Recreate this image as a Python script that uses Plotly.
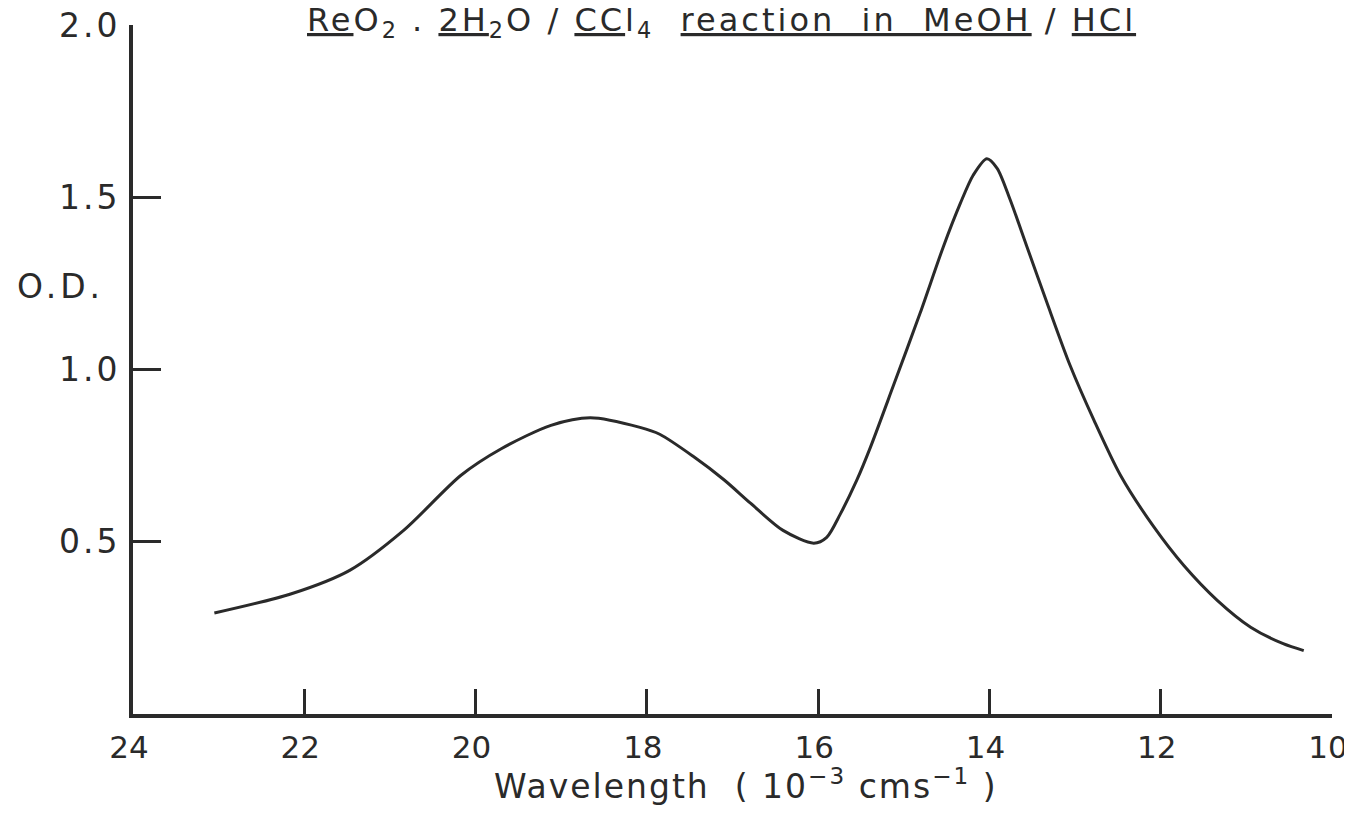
import plotly.graph_objects as go

# Wavenumber (10^-3 cm^-1) and optical density
wavenumber = [23.05, 22.15, 21.47, 20.84, 20.17, 19.70, 19.12, 18.66, 18.08, 17.85,
              17.46, 17.10, 16.79, 16.41, 16.05, 15.90, 15.74, 15.55, 15.39, 15.12, 14.81,
              14.54, 14.34, 14.19, 14.03, 13.91, 13.76, 13.56, 13.33, 13.06, 12.78,
              12.47, 12.08, 11.73, 11.34, 10.95, 10.57, 10.33]
od = [0.293, 0.349, 0.417, 0.533, 0.693, 0.770, 0.838, 0.860, 0.832, 0.812,
      0.748, 0.680, 0.612, 0.533, 0.496, 0.513, 0.581, 0.678, 0.774, 0.954, 1.163,
      1.355, 1.482, 1.564, 1.612, 1.584, 1.494, 1.355, 1.195, 1.013, 0.853,
      0.693, 0.543, 0.431, 0.330, 0.252, 0.204, 0.184]

x_ticks = [24, 22, 20, 18, 16, 14, 12, 10]
x_ticklabels = ["24", "22", "20", "18", "16", "14", "12", "10"]
y_ticks = [0.5, 1.0, 1.5, 2.0]
y_ticklabels = ["0.5", "1.0", "1.5", "2.0"]

INK = "#2a2a2a"
FONT = "DejaVu Sans"


def spaced(t, px=3):
    return '<span style="letter-spacing:%dpx">%s</span>' % (px, t)


fig = go.Figure()
fig.add_trace(go.Scatter(
    x=wavenumber, y=od, mode="lines",
    line=dict(color=INK, width=3, shape="spline", smoothing=0.8),
    showlegend=False, hoverinfo="skip",
))

# page body adds an 8px margin, so the figure is sized/offset to compensate
fig.update_layout(
    width=1344, height=818,
    margin=dict(l=125, r=20, t=17, b=112, pad=0),
    paper_bgcolor="white", plot_bgcolor="white",
    font=dict(family=FONT, color=INK, size=30),
    showlegend=False,
)

fig.update_xaxes(
    range=[24, 10], tickvals=x_ticks,
    ticktext=x_ticklabels,
    showgrid=False, zeroline=False, automargin=False,
    showline=True, linewidth=4, linecolor=INK,
    ticks="inside", ticklen=25, tickwidth=2.5, tickcolor=INK,
    ticklabelstandoff=3, ticklabelshift=4, ticklabeloverflow="allow",
    tickfont=dict(family=FONT, size=31, color=INK),
)
fig.update_yaxes(
    range=[0, 2.0], tickvals=y_ticks,
    ticktext=[spaced(t, 3) for t in y_ticklabels],
    showgrid=False, zeroline=False, automargin=False,
    showline=True, linewidth=4, linecolor=INK,
    ticks="inside", ticklen=28, tickwidth=2.5, tickcolor=INK,
    ticklabelstandoff=2, ticklabeloverflow="allow",
    tickfont=dict(family=FONT, size=33, color=INK),
)

NB = "\u00a0"
title = ("<u>Re</u>O<sub>2</sub>" + NB + "." + NB + "<u>2H</u><sub>2</sub>O" + NB + "/" + NB
         + "<u>CC</u>l<sub>4</sub>" + NB * 2 + "<u>reaction" + NB * 2 + "in" + NB * 2
         + "MeOH</u>" + NB + "/" + NB + "<u>HCl</u>")
fig.add_annotation(
    text=spaced(title, 3), xref="paper", yref="paper", x=0.491, y=1.005,
    xanchor="center", yanchor="middle", showarrow=False,
    font=dict(family=FONT, size=32, color=INK),
)
fig.add_annotation(
    text=spaced("O.D.", 4), xref="paper", yref="y", x=-0.098, y=1.24,
    xanchor="left", yanchor="middle", showarrow=False,
    font=dict(family=FONT, size=33, color=INK),
)
fig.add_annotation(
    text=spaced("Wavelength" + NB * 2 + "(" + NB + "10<sup>\u22123</sup>" + NB + "cms<sup>\u22121</sup>" + NB + ")", 2),
    xref="paper", yref="paper", x=0.511, y=-0.103,
    xanchor="center", yanchor="middle", showarrow=False,
    font=dict(family=FONT, size=33, color=INK),
)

fig.write_html("out.html")
